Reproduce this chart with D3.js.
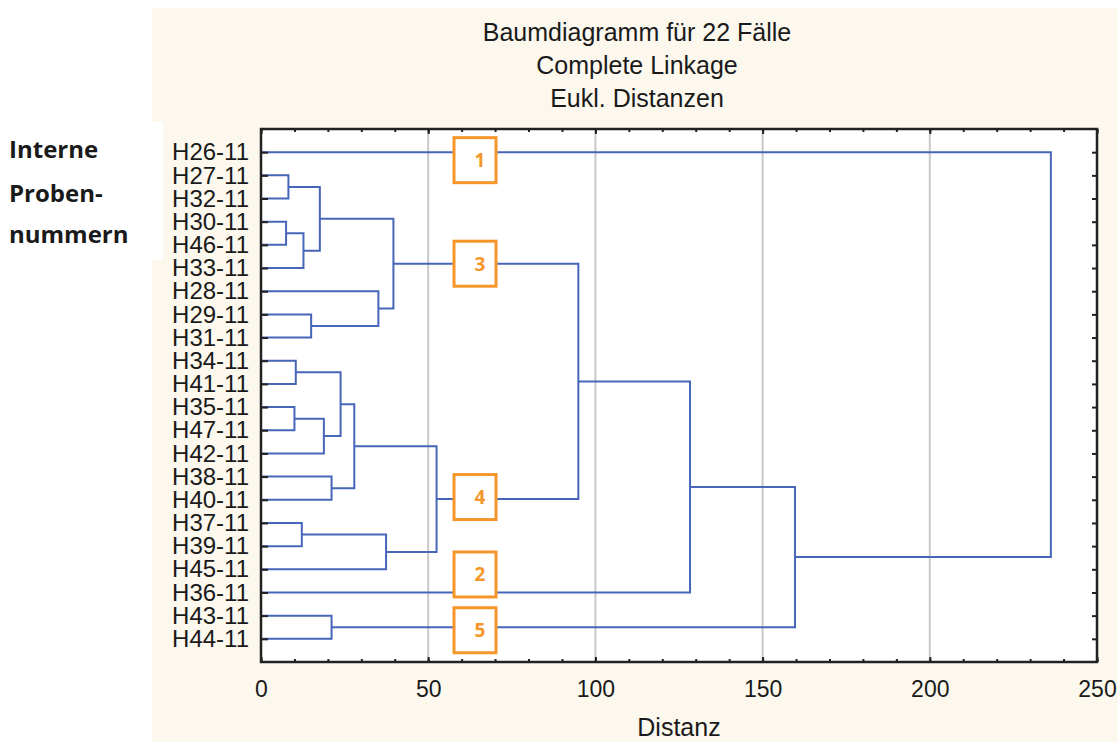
<!DOCTYPE html>
<html>
<head>
<meta charset="utf-8">
<script src="https://cdn.jsdelivr.net/npm/d3@7"></script>
<style>
  body { margin: 0; background: #fff; }
  svg { display: block; }
</style>
</head>
<body>
<svg id="chart"></svg>
<script>
// leaves in dendrogram order (top to bottom)
var leaves = ["H26-11", "H27-11", "H32-11", "H30-11", "H46-11", "H33-11", "H28-11",
    "H29-11", "H31-11", "H34-11", "H41-11", "H35-11", "H47-11", "H42-11", "H38-11",
    "H40-11", "H37-11", "H39-11", "H45-11", "H36-11", "H43-11", "H44-11"];

// linkage: node ids 0..21 are leaves, merge k gets id 22 + k
var linkLeft  = [3, 1, 11, 9, 16, 22, 7, 23, 24, 14, 20, 25, 33, 6, 26, 29, 34, 37, 39, 40, 0];
var linkRight = [4, 2, 12, 10, 17, 5, 8, 27, 13, 15, 21, 30, 31, 28, 18, 35, 36, 38, 19, 32, 41];
var linkDist  = [7.5, 8.2, 10.0, 10.4, 12.2, 12.7, 15.0, 17.6, 18.8, 21.1, 21.1, 23.8,
    27.9, 35.1, 37.4, 39.6, 52.5, 94.9, 128.3, 159.7, 236.2];

var xTicks = [0, 50, 100, 150, 200, 250];
var titleLines = ["Baumdiagramm für 22 Fälle", "Complete Linkage", "Eukl. Distanzen"];
var sideLabel = ["Interne", "Proben-", "nummern"];

// cluster markers: label and the node they sit on
var boxLabels = ["1", "2", "3", "4", "5"];
var boxNodes = [0, 19, 37, 38, 32];

var width = 1118, height = 742;
var pLeft = 261, pRight = 1097, pTop = 129, pBottom = 662;
var blue = "#4766b9", orange = "#f5962a";
var sans = "Liberation Sans, Arial, sans-serif";

var svg = d3.select("#chart").attr("width", width).attr("height", height);

// panels
svg.append("rect").attr("x", 152).attr("y", 8).attr("width", width - 152).attr("height", height - 8)
    .attr("fill", "#fcf8ee");
svg.append("rect").attr("x", 0).attr("y", 122).attr("width", 163).attr("height", 138)
    .attr("fill", "#ffffff");
svg.append("rect").attr("x", pLeft).attr("y", pTop).attr("width", pRight - pLeft).attr("height", pBottom - pTop)
    .attr("fill", "#ffffff");

var x = d3.scaleLinear().domain([0, 250]).range([pLeft, pRight]);
var y = d3.scaleLinear().domain([0, leaves.length + 1]).range([pTop, pBottom]);

// node positions
var nodeX = leaves.map(() => 0);
var nodeY = leaves.map((d, i) => i + 1);
linkDist.forEach((d, k) => {
    nodeX.push(d);
    nodeY.push((nodeY[linkLeft[k]] + nodeY[linkRight[k]]) / 2);
});

// grid
svg.append("g").selectAll("line").data(xTicks.slice(1, -1)).join("line")
    .attr("x1", d => x(d)).attr("x2", d => x(d))
    .attr("y1", pTop).attr("y2", pBottom)
    .attr("stroke", "#c9c9c9").attr("stroke-width", 2);

// links
var line = d3.line();
svg.append("g").selectAll("path").data(linkDist).join("path")
    .attr("fill", "none")
    .attr("stroke", blue)
    .attr("stroke-width", 2)
    .attr("d", (d, k) => {
        var a = linkLeft[k], b = linkRight[k];
        return line([
            [x(nodeX[a]), y(nodeY[a])],
            [x(d), y(nodeY[a])],
            [x(d), y(nodeY[b])],
            [x(nodeX[b]), y(nodeY[b])]
        ]);
    });

// axes
var rows = d3.range(1, leaves.length + 1);
var yAxis = d3.axisLeft(y).tickValues(rows).tickSize(-7).tickPadding(12)
    .tickFormat(d => leaves[d - 1]);
var gy = svg.append("g").attr("transform", "translate(" + pLeft + ",0)").call(yAxis);
gy.selectAll("text").attr("font-family", sans)
    .attr("font-size", 24).attr("fill", "#1a1a1a");

svg.append("g").attr("transform", "translate(" + pRight + ",0)")
    .call(d3.axisRight(y).tickValues(rows).tickSize(-5).tickFormat(""));

var minor = d3.range(0, 251, 10);
svg.append("g").attr("transform", "translate(0," + pTop + ")")
    .call(d3.axisTop(x).tickValues(minor).tickSize(-3).tickFormat(""));
svg.append("g").attr("transform", "translate(0," + pBottom + ")")
    .call(d3.axisBottom(x).tickValues(minor).tickSize(-3).tickFormat(""));
svg.append("g").attr("transform", "translate(0," + pTop + ")")
    .call(d3.axisTop(x).tickValues(xTicks).tickSize(-5).tickFormat(""));

var gx = svg.append("g").attr("transform", "translate(0," + pBottom + ")")
    .call(d3.axisBottom(x).tickValues(xTicks).tickSize(-5).tickPadding(19));
gx.selectAll("text").attr("font-family", sans)
    .attr("font-size", 23).attr("fill", "#1a1a1a");

svg.selectAll(".domain").remove();
svg.selectAll(".tick line").attr("stroke", "#222").attr("stroke-width", 2);

// frame
svg.append("rect").attr("x", pLeft).attr("y", pTop).attr("width", pRight - pLeft).attr("height", pBottom - pTop)
    .attr("fill", "none").attr("stroke", "#222").attr("stroke-width", 2.5);

// cluster boxes
var boxShift = [8, -18, 0, -2, 3];
var boxes = svg.append("g").selectAll("g").data(boxLabels).join("g")
    .attr("transform", (d, i) => "translate(" + x(64) + "," + (y(nodeY[boxNodes[i]]) + boxShift[i]) + ")");
boxes.append("rect")
    .attr("x", -21).attr("y", -22.5).attr("width", 42).attr("height", 45)
    .attr("fill", "#ffffff").attr("stroke", orange).attr("stroke-width", 3);
boxes.append("text")
    .attr("x", 5).attr("y", 7)
    .attr("text-anchor", "middle")
    .attr("font-family", "Open Sans, sans-serif").attr("font-weight", "bold")
    .attr("font-size", 19).attr("fill", orange)
    .text(d => d);

// titles
svg.append("g").selectAll("text").data(titleLines).join("text")
    .attr("x", 637).attr("y", (d, i) => 41 + i * 33)
    .attr("text-anchor", "middle")
    .attr("font-family", sans)
    .attr("font-size", 25).attr("fill", "#1a1a1a")
    .text(d => d);

svg.append("text")
    .attr("x", (pLeft + pRight) / 2).attr("y", 736)
    .attr("text-anchor", "middle")
    .attr("font-family", sans)
    .attr("font-size", 25).attr("fill", "#1a1a1a")
    .text("Distanz");

svg.append("g").selectAll("text").data(sideLabel).join("text")
    .attr("x", 9).attr("y", (d, i) => [158, 202, 243][i])
    .attr("font-family", "Open Sans, sans-serif").attr("font-weight", "bold")
    .attr("font-size", 24).attr("fill", "#1a1a1a")
    .text(d => d);
</script>
</body>
</html>
